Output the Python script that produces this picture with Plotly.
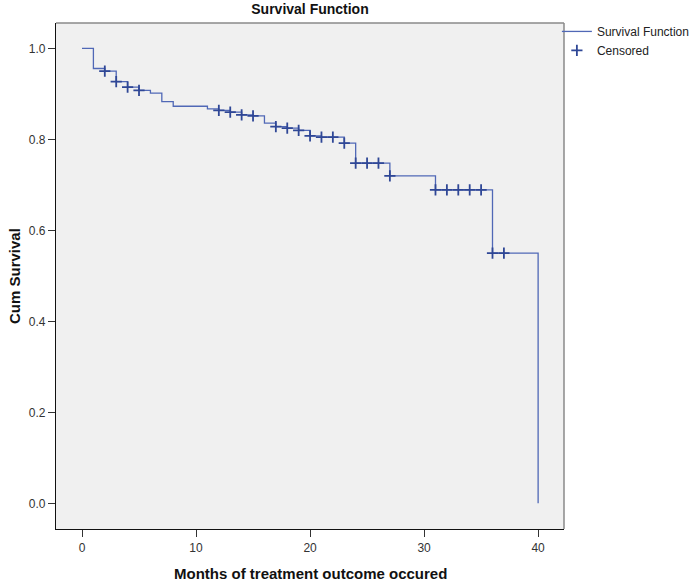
import plotly.graph_objects as go

# Step function (Kaplan-Meier)
event_months = [0, 1, 2, 3, 4, 5, 6, 7, 8, 11, 12, 13, 14, 15, 16, 17, 18, 19, 20, 21, 23, 24, 27, 31, 36, 40]
survival = [1.0, 0.956, 0.950, 0.927, 0.915, 0.908, 0.902, 0.883, 0.873, 0.867, 0.864, 0.860, 0.854, 0.852,
            0.836, 0.828, 0.825, 0.820, 0.808, 0.805, 0.792, 0.748, 0.720, 0.689, 0.550, 0.0]

# Censored observations
censored_months = [2, 3, 4, 5, 12, 13, 14, 15, 17, 18, 19, 20, 21, 22, 23, 24, 25, 26, 27, 31, 32, 33, 34, 35, 36, 37]
censored_surv = [0.950, 0.927, 0.915, 0.908, 0.864, 0.860, 0.854, 0.852, 0.828, 0.825, 0.820, 0.808, 0.805, 0.805,
                 0.792, 0.748, 0.748, 0.748, 0.720, 0.689, 0.689, 0.689, 0.689, 0.689, 0.550, 0.550]

x_ticks = [0, 10, 20, 30, 40]
y_ticks = [0.0, 0.2, 0.4, 0.6, 0.8, 1.0]

line_color = "#5068b6"
mark_color = "#2f4796"
font = "Liberation Sans, Arial, sans-serif"

L, R, T, B = 56, 132, 23, 53
W, H = 696, 582
pw, ph = W - L - R, H - T - B

fig = go.Figure()
fig.add_trace(go.Scatter(
    x=event_months, y=survival, mode="lines", line_shape="hv",
    line=dict(color=line_color, width=1.3), name="Survival Function",
))
fig.add_trace(go.Scatter(
    x=censored_months, y=censored_surv, mode="markers", name="Censored",
    marker=dict(symbol="cross-thin", size=8, color=mark_color,
                line=dict(color=mark_color, width=1.8)),
))

fig.update_layout(
    width=W, height=H,
    margin=dict(l=L, r=R, t=T, b=B, autoexpand=False),
    paper_bgcolor="white", plot_bgcolor="#f0f0f0",
    font=dict(family=font, size=12, color="#222"),
    title=dict(text="<b>Survival Function</b>", x=(L + pw / 2) / W, xanchor="center",
               y=1 - 9 / H, yanchor="middle", pad=dict(t=0, b=0), font=dict(size=14, color="#111")),
    legend=dict(x=0.986, y=1.012, xanchor="left", yanchor="top", tracegroupgap=0,
                font=dict(size=12, color="#222"), bgcolor="rgba(0,0,0,0)", itemwidth=30),
    showlegend=True,
    annotations=[
        dict(text="<b>Months of treatment outcome occured</b>", xref="paper", yref="paper",
             x=0.5, y=-44 / ph, xanchor="center", yanchor="middle",
             showarrow=False, font=dict(size=15, color="#111")),
        dict(text="<b>Cum Survival</b>", xref="paper", yref="paper",
             x=(14 - L) / pw, y=(H - B - 276) / ph, xanchor="center", yanchor="middle",
             textangle=-90, showarrow=False, font=dict(size=15, color="#111")),
    ],
)
fig.update_xaxes(
    range=[-2.28, 42.27], tickvals=x_ticks, ticktext=[str(v) for v in x_ticks],
    showgrid=False, zeroline=False, showline=True, linecolor="#111", linewidth=1.2,
    ticks="outside", ticklen=7, tickcolor="#333", tickwidth=1.2, automargin=False,
    tickfont=dict(size=12, color="#333"),
)
fig.update_yaxes(
    range=[-0.0565, 1.056], tickvals=y_ticks, ticktext=[f"{v:.1f}" for v in y_ticks],
    showgrid=False, zeroline=False, showline=True, linecolor="#111", linewidth=1.2,
    ticks="outside", ticklen=7, tickcolor="#333", tickwidth=1.2, automargin=False,
    tickfont=dict(size=12, color="#333"),
)
# gray top/right frame
fig.add_shape(type="line", xref="paper", yref="paper", x0=0, x1=1, y0=1, y1=1,
              line=dict(color="#8a8a8a", width=1.5))
fig.add_shape(type="line", xref="paper", yref="paper", x0=1, x1=1, y0=0, y1=1,
              line=dict(color="#8a8a8a", width=1.5))

fig.write_html("out.html", config={"displayModeBar": False},
               post_script="document.body.style.margin='0';document.body.style.overflow='hidden';")
